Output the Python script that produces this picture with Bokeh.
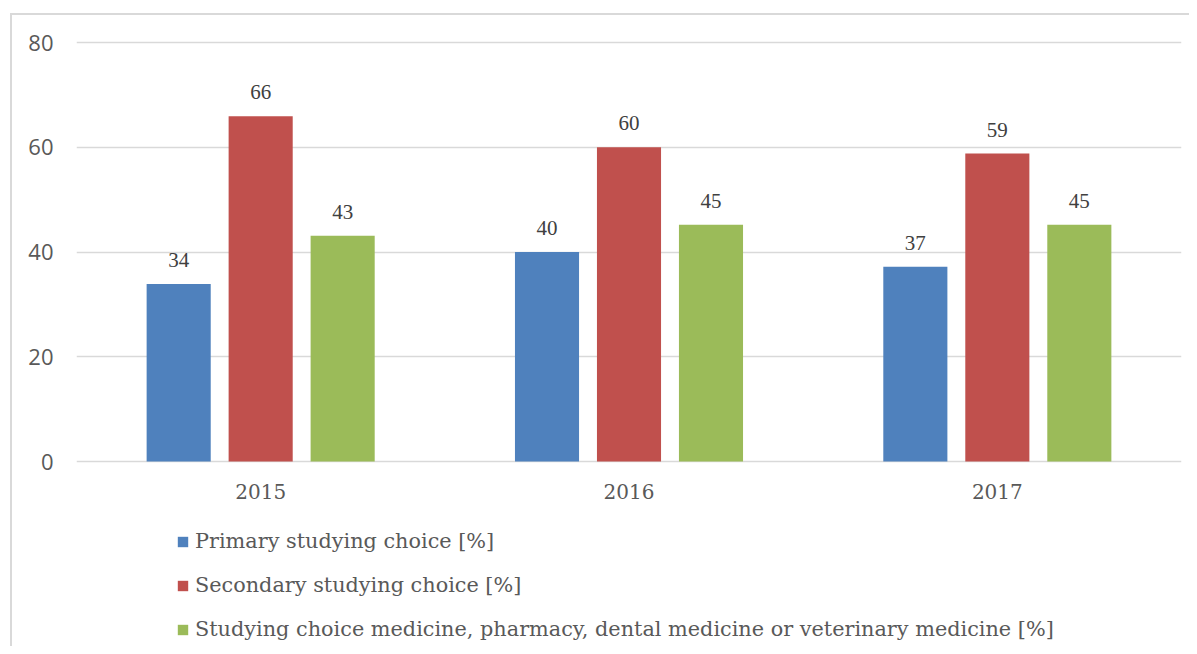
from bokeh.plotting import figure
from bokeh.models import (ColumnDataSource, FactorRange, Range1d, LabelSet, Legend,
                          LegendItem, FixedTicker)
from bokeh.transform import dodge
from bokeh.embed import file_html
from bokeh.resources import INLINE

years = ["2015", "2016", "2017"]
primary = [33.9, 40.0, 37.2]
secondary = [65.9, 60.0, 58.8]
medicine = [43.1, 45.2, 45.2]
series_names = [
    "Primary studying choice [%]",
    "Secondary studying choice [%]",
    "Studying choice medicine, pharmacy, dental medicine or veterinary medicine [%]",
]
colors = ["#4f81bd", "#c0504d", "#9bbb59"]
y_ticks = [0, 20, 40, 60, 80]

SERIF = "DejaVu Serif"
SANS = "Open Sans"

W, H = 1189, 646
px_per_unit = (461 - 42) / 80.0
top_px, bottom_px = 40, H
y_end = 80 + (42 - top_px) / px_per_unit
y_start = -(bottom_px - 461) / px_per_unit

p = figure(width=W, height=H, output_backend="svg", toolbar_location=None,
           x_range=FactorRange(factors=years, range_padding=0),
           y_range=Range1d(y_start, y_end))
p.min_border_left = 76
p.min_border_top = top_px
p.min_border_right = 8
p.min_border_bottom = 0
p.outline_line_color = None
p.background_fill_color = "white"
p.border_fill_alpha = 0
p.styles = {
    "background": ("linear-gradient(#d9d9d9, #d9d9d9) 10px 13px / 2px 100% no-repeat, "
                   "linear-gradient(#d9d9d9, #d9d9d9) 10px 13px / 100% 2px no-repeat, "
                   "white"),
}

p.xgrid.grid_line_color = None
p.ygrid.grid_line_color = "#d9d9d9"
p.ygrid.grid_line_width = 1.5
p.yaxis.ticker = FixedTicker(ticks=y_ticks)

for ax in (p.xaxis[0], p.yaxis[0]):
    ax.axis_line_color = None
    ax.major_tick_line_color = None
    ax.minor_tick_line_color = None
    ax.major_tick_out = 0
    ax.minor_tick_out = 0
    ax.major_label_text_color = "#595959"

p.yaxis.major_label_text_font = SANS
p.yaxis.major_label_text_font_size = "22px"
p.yaxis.major_label_standoff = 23
p.xaxis.fixed_location = 0
p.xaxis.major_label_text_font = SERIF
p.xaxis.major_label_text_font_size = "20px"
p.xaxis.major_label_standoff = 22

offsets = [-0.2226, 0.0, 0.2226]
items = []
for vals, name, col, off in zip([primary, secondary, medicine], series_names, colors, offsets):
    src = ColumnDataSource(dict(year=years, value=vals, label=["%.0f" % v for v in vals]))
    r = p.vbar(x=dodge("year", off, range=p.x_range), top="value", width=0.174,
               source=src, fill_color=col, line_color=None)
    items.append(LegendItem(label=name, renderers=[r]))
    lbl = LabelSet(x=dodge("year", off, range=p.x_range), y="value", text="label",
                   source=src, y_offset=17, text_align="center", text_baseline="alphabetic",
                   text_font=SERIF, text_font_size="21px", text_color="#404040")
    p.add_layout(lbl)

legend = Legend(items=items, location=(100, 5), orientation="vertical",
                glyph_width=13, glyph_height=13, label_standoff=6, spacing=20,
                padding=0, margin=0, border_line_color=None, background_fill_alpha=0,
                label_text_font=SERIF, label_text_font_size="20.8px",
                label_text_color="#595959", label_height=20)
p.add_layout(legend)

open("out.html", "w").write(file_html(p, INLINE))
